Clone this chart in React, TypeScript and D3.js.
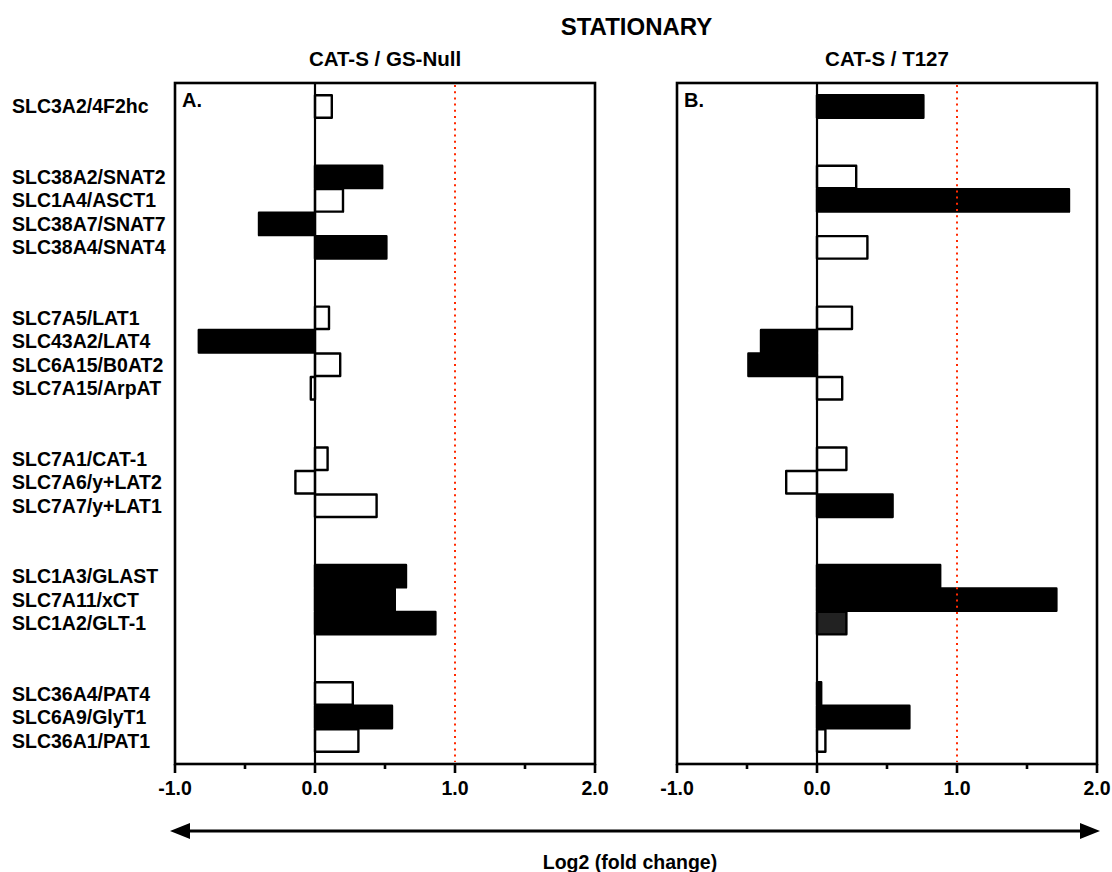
import React from "react";
import * as d3 from "d3";

const genes = [
  "SLC3A2/4F2hc",
  "SLC38A2/SNAT2", "SLC1A4/ASCT1", "SLC38A7/SNAT7", "SLC38A4/SNAT4",
  "SLC7A5/LAT1", "SLC43A2/LAT4", "SLC6A15/B0AT2", "SLC7A15/ArpAT",
  "SLC7A1/CAT-1", "SLC7A6/y+LAT2", "SLC7A7/y+LAT1",
  "SLC1A3/GLAST", "SLC7A11/xCT", "SLC1A2/GLT-1",
  "SLC36A4/PAT4", "SLC6A9/GlyT1", "SLC36A1/PAT1",
];
// row slot of each gene (groups separated by two empty rows)
const slots = [0, 3, 4, 5, 6, 9, 10, 11, 12, 15, 16, 17, 20, 21, 22, 25, 26, 27];

const valuesA = [0.12, 0.48, 0.2, -0.4, 0.51, 0.1, -0.83, 0.18, -0.03, 0.09, -0.14, 0.44, 0.65, 0.57, 0.86, 0.27, 0.55, 0.31];
const styleA = ["o", "f", "o", "f", "f", "o", "f", "o", "o", "o", "o", "o", "f", "f", "f", "o", "f", "o"];

const valuesB: (number | null)[] = [0.76, 0.28, 1.8, null, 0.36, 0.25, -0.4, -0.49, 0.18, 0.21, -0.22, 0.54, 0.88, 1.71, 0.21, 0.03, 0.66, 0.06];
const styleB = ["f", "o", "f", "o", "o", "o", "f", "f", "o", "o", "o", "f", "f", "f", "d", "f", "f", "o"];

const majorTicks = [-1, 0, 1, 2];
const minorTicks = [-0.5, 0.5, 1.5];
const tickLabels = ["-1.0", "0.0", "1.0", "2.0"];

const title = "STATIONARY";
const panelTitles = ["CAT-S / GS-Null", "CAT-S / T127"];
const panelLetters = ["A.", "B."];
const axisTitle = "Log2 (fold change)";

const W = 1112;
const H = 872;
const TOP = 83;
const BOTTOM = 764;
const FONT = "'Liberation Sans', Arial, Helvetica, sans-serif";

const y = d3.scaleLinear().domain([-1, 28]).range([TOP, BOTTOM]);
const step = y(1) - y(0);

const fills: Record<string, string> = { o: "#ffffff", f: "#000000", d: "#222222" };

function Panel({ x0, x1, values, styles, ptitle, letter }: any) {
  const x = d3.scaleLinear().domain([-1, 2]).range([x0, x1]);
  const bh = step - 1;
  return (
    <g>
      <text x={(x0 + x1) / 2} y={66} textAnchor="middle" fontFamily={FONT} fontWeight="bold" fontSize={20.5}>
        {ptitle}
      </text>
      {values.map((v: number | null, i: number) => {
        if (v === null) return null;
        const yc = y(slots[i]);
        const xa = Math.min(x(0), x(v));
        const w = Math.abs(x(v) - x(0));
        return (
          <rect key={i} x={xa} y={yc - bh / 2} width={w} height={bh} fill={fills[styles[i]]} stroke="#000" strokeWidth={2.4} strokeLinejoin="round" />
        );
      })}
      <line x1={x(0)} x2={x(0)} y1={TOP} y2={BOTTOM} stroke="#000" strokeWidth={2.2} />
      <line x1={x(1)} x2={x(1)} y1={TOP + 2} y2={BOTTOM - 2} stroke="#ff2a00" strokeWidth={2} strokeDasharray="2,4.2" />
      <rect x={x0} y={TOP} width={x1 - x0} height={BOTTOM - TOP} fill="none" stroke="#000" strokeWidth={2.6} />
      {majorTicks.map((t, i) => (
        <g key={"M" + t}>
          <line x1={x(t)} x2={x(t)} y1={BOTTOM} y2={BOTTOM + 9} stroke="#000" strokeWidth={2.6} />
          <text x={x(t)} y={795} textAnchor="middle" fontFamily={FONT} fontWeight="bold" fontSize={19.5}>
            {tickLabels[i]}
          </text>
        </g>
      ))}
      {minorTicks.map((t) => (
        <line key={"m" + t} x1={x(t)} x2={x(t)} y1={BOTTOM} y2={BOTTOM + 5} stroke="#000" strokeWidth={2.6} />
      ))}
      <text x={x0 + 7} y={107} fontFamily={FONT} fontWeight="bold" fontSize={20}>
        {letter}
      </text>
    </g>
  );
}

export default function App() {
  const ax0 = 170;
  const ax1 = 1100;
  const ay = 831;
  return (
    <svg width={W} height={H} style={{ position: "absolute", left: 0, top: 0, background: "#fff" }}>
      <rect x={0} y={0} width={W} height={H} fill="#fff" />
      <text x={636.5} y={35} textAnchor="middle" fontFamily={FONT} fontWeight="bold" fontSize={24}>
        {title}
      </text>
      {genes.map((g, i) => (
        <text key={g} x={12} y={y(slots[i]) + 7} fontFamily={FONT} fontWeight="bold" fontSize={19.5}>
          {g}
        </text>
      ))}
      <Panel x0={175} x1={595} values={valuesA} styles={styleA} ptitle={panelTitles[0]} letter={panelLetters[0]} />
      <Panel x0={677} x1={1097} values={valuesB} styles={styleB} ptitle={panelTitles[1]} letter={panelLetters[1]} />
      <line x1={ax0 + 18} x2={ax1 - 18} y1={ay} y2={ay} stroke="#000" strokeWidth={3} />
      <path d={`M${ax0},${ay} L${ax0 + 20},${ay - 8} L${ax0 + 20},${ay + 8} Z`} fill="#000" />
      <path d={`M${ax1},${ay} L${ax1 - 20},${ay - 8} L${ax1 - 20},${ay + 8} Z`} fill="#000" />
      <text x={630} y={869} textAnchor="middle" fontFamily={FONT} fontWeight="bold" fontSize={19.5}>
        {axisTitle}
      </text>
    </svg>
  );
}
